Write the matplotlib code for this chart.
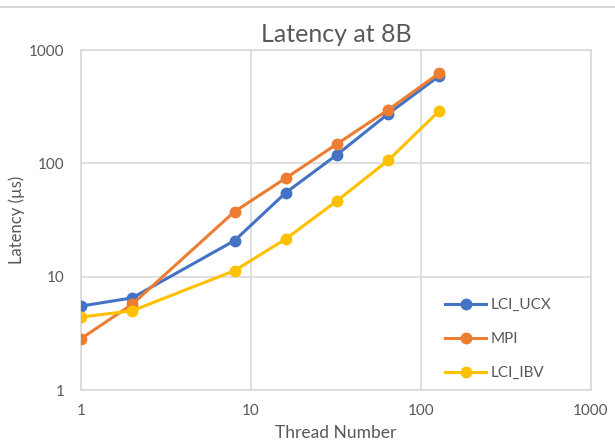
import matplotlib
matplotlib.use("Agg")
import matplotlib.pyplot as plt
from matplotlib.lines import Line2D

plt.rcParams['font.family'] = ['Lato', 'DejaVu Sans']

threads = [1, 2, 8, 16, 32, 64, 128]
lci_ucx = [5.5, 6.5, 20.8, 55, 119, 273, 590]
mpi = [2.84, 5.7, 37.5, 74, 148, 296, 624]
lci_ibv = [4.4, 5.0, 11.3, 21.5, 46.6, 106, 290]

series = [("LCI_UCX", lci_ucx, "#4472C4"),
          ("MPI", mpi, "#ED7D31"),
          ("LCI_IBV", lci_ibv, "#FFC000")]

x_ticks = [1, 10, 100, 1000]
y_ticks = [1, 10, 100, 1000]

text_col = "#595959"
grid_col = "#D9D9D9"

fig = plt.figure(figsize=(6.15, 4.43), dpi=100)
ax = fig.add_axes([81/615, 1-390/443, 510/615, 340/443])

for name, vals, col in series:
    ax.plot(threads, vals, color=col, lw=2.2, marker='o', ms=7.5,
            label=name, zorder=3)

ax.set_xscale('log')
ax.set_yscale('log')
ax.set_xlim(1, 1000)
ax.set_ylim(1, 1000)
ax.set_xticks(x_ticks)
ax.set_xticklabels([str(v) for v in x_ticks])
ax.set_yticks(y_ticks)
ax.set_yticklabels([str(v) for v in y_ticks])
ax.minorticks_off()
ax.tick_params(axis='both', length=0, labelsize=11, labelcolor=text_col)
ax.tick_params(axis='y', pad=12)
ax.tick_params(axis='x', pad=10)
ax.grid(True, color=grid_col, lw=1.2)
ax.set_axisbelow(True)
for s in ax.spines.values():
    s.set_color(grid_col)
    s.set_linewidth(1.2)

ax.set_title("Latency at 8B", fontsize=18, color=text_col, pad=6)
ax.set_xlabel("Thread Number", fontsize=12.5, color=text_col, labelpad=5)
ax.set_ylabel("Latency (µs)", fontsize=12, color=text_col, labelpad=3)

leg = ax.legend(loc='center left', bbox_to_anchor=(0.69, 0.15),
                frameon=True, fontsize=11, handlelength=2.7,
                labelspacing=1.3, handletextpad=0.3, borderpad=0.3)
leg.get_frame().set_facecolor('white')
leg.get_frame().set_edgecolor('none')
for t in leg.get_texts():
    t.set_color(text_col)

fig.add_artist(Line2D([0, 1], [1-6.5/443, 1-6.5/443], color=grid_col, lw=1.5))

fig.savefig("out.png", dpi=100)
